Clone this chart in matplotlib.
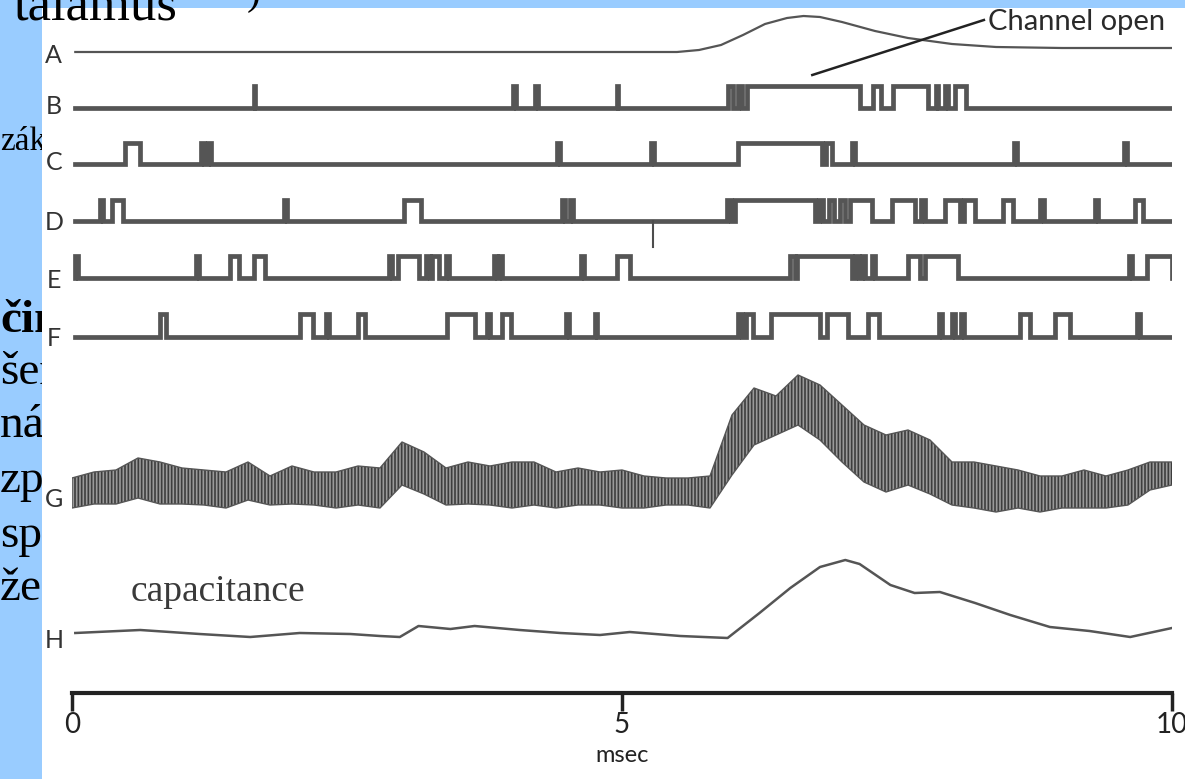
import numpy as np
import matplotlib
matplotlib.use('Agg')
from matplotlib import pyplot as plt
from matplotlib.patches import Rectangle

# Single-channel traces B-F: open intervals (msec)
B_open = [(1.65, 1.66), (4.01, 4.04), (4.21, 4.24), (4.95, 4.96), (5.96, 6.01), (6.05, 6.09),
          (6.14, 7.16), (7.28, 7.35), (7.46, 7.78), (7.85, 7.87), (7.94, 7.96), (8.03, 8.13)]
C_open = [(0.48, 0.62), (1.17, 1.20), (1.24, 1.26), (4.41, 4.44), (5.26, 5.29), (6.05, 6.82),
          (6.85, 6.91), (7.09, 7.12), (8.56, 8.59), (9.56, 9.59)]
D_open = [(0.25, 0.28), (0.36, 0.46), (1.93, 1.95), (3.02, 3.17), (4.45, 4.48), (4.53, 4.55),
          (5.95, 5.99), (6.03, 6.75), (6.79, 6.83), (6.88, 6.93), (6.98, 7.03), (7.07, 7.27),
          (7.45, 7.66), (7.72, 7.75), (7.94, 8.07), (8.11, 8.21), (8.46, 8.55), (8.80, 8.84),
          (9.30, 9.33), (9.66, 9.74)]
D_dips = [5.28]
E_open = [(0.03, 0.05), (1.13, 1.15), (1.44, 1.52), (1.65, 1.75), (2.88, 2.91), (2.96, 3.15),
          (3.22, 3.25), (3.27, 3.34), (3.40, 3.43), (3.84, 3.86), (3.88, 3.91), (4.63, 4.65),
          (4.95, 5.07), (6.53, 6.57), (6.59, 7.09), (7.12, 7.15), (7.18, 7.21), (7.27, 7.30),
          (7.60, 7.71), (7.75, 8.05), (9.61, 9.64), (9.77, 10.0)]
F_open = [(0.80, 0.85), (2.07, 2.19), (2.31, 2.34), (2.60, 2.66), (3.41, 3.66), (3.77, 3.80),
          (3.91, 3.99), (4.49, 4.52), (4.75, 4.77), (6.05, 6.09), (6.13, 6.19), (6.35, 6.80),
          (6.86, 7.05), (7.24, 7.34), (7.88, 7.91), (8.00, 8.03), (8.08, 8.11), (8.62, 8.71),
          (8.94, 9.07), (9.68, 9.71)]

# A: stimulus (smooth)
A_t = [0.03, 5.5, 5.7, 5.9, 6.1, 6.3, 6.5, 6.65, 6.8, 7.0, 7.3, 7.6, 8.0, 8.4, 9.0, 10.0]
A_y = [52, 52, 50, 45, 35, 24, 18, 16, 17, 22, 31, 38, 44, 47, 48, 48]

# G: summed current, upper / lower envelope
G_t = [round(0.2 * i, 1) for i in range(51)]
G_hi = [478, 472, 470, 458, 462, 468, 470, 472, 462, 476, 466, 472, 472, 466, 468, 442, 452,
        468, 462, 466, 462, 462, 472, 468, 472, 470, 476, 478, 478, 476, 415, 388, 396, 375,
        385, 405, 425, 435, 430, 440, 462, 462, 466, 470, 476, 476, 470, 476, 470, 462, 462]
G_lo = [508, 504, 504, 498, 504, 504, 505, 508, 500, 505, 504, 505, 508, 505, 508, 485, 494,
        505, 504, 505, 508, 505, 508, 505, 505, 508, 508, 505, 505, 508, 475, 445, 435, 425,
        440, 462, 482, 492, 485, 494, 505, 508, 512, 508, 512, 508, 508, 508, 505, 490, 485]

# H: capacitance
H_t = [0.03, 0.62, 1.16, 1.62, 2.07, 2.53, 2.8, 2.98, 3.15, 3.44, 3.66, 4.07, 4.44, 4.8, 5.07,
       5.53, 5.96, 6.25, 6.53, 6.8, 7.03, 7.16, 7.44, 7.66, 7.89, 8.21, 8.53, 8.89, 9.25, 9.62, 10.0]
H_y = [633, 630, 634, 637, 633, 634, 636, 637, 626, 629, 626, 630, 633, 635, 632,
       636, 638, 613, 588, 567, 560, 564, 585, 593, 592, 603, 615, 627, 631, 637, 628]

trace_labels = ['A', 'B', 'C', 'D', 'E', 'F', 'G', 'H']
label_y = [55, 106, 162, 222, 280, 338, 499, 641]
side_words = ['zák', 'čin', 'šer', 'ná', 'zp', 'spo', 'žer']
side_y = [150, 332, 384, 437, 492, 547, 600]

W, H = 1185, 779
blue = '#99ccff'
ink = '#4d4d4d'

fig = plt.figure(figsize=(W / 100, H / 100), dpi=100, facecolor=blue)

# white picture panel on the slide
fig.patches.append(Rectangle((42 / W, 0), 1 - 42 / W, (H - 8) / H, transform=fig.transFigure,
                             facecolor='white', edgecolor='none', zorder=1))

# slide text behind the picture
for word, y in zip(side_words, side_y):
    bold = 'bold' if word == 'čin' else 'normal'
    size = 24 if word == 'zák' else 34
    fig.text(0 / W, 1 - y / H, word, family='Liberation Serif', fontsize=size, weight=bold,
             va='baseline', ha='left', zorder=0.5)
fig.text(14 / W, 1 - 19 / H, 'talamus', family='Liberation Serif', fontsize=38,
         va='baseline', ha='left', zorder=3)
fig.text(247 / W, 1 - 4 / H, ')', family='Liberation Serif', fontsize=30,
         va='baseline', ha='left', zorder=3)

ax = fig.add_axes([72 / W, 0, 1100 / W, 1])
ax.set_zorder(2)
ax.patch.set_alpha(0)
ax.set_xlim(0, 10)
ax.set_ylim(H, 0)


def step_trace(intervals, base, amp):
    xs, ys = [0.03], [base]
    for t0, t1 in intervals:
        xs += [t0, t0, t1, t1]
        ys += [base, base - amp, base - amp, base]
    xs.append(10.0)
    ys.append(base)
    return xs, ys


levels = [(B_open, 108, 22), (C_open, 164, 21), (D_open, 221, 21), (E_open, 278, 22), (F_open, 337, 23)]
for ivs, base, amp in levels:
    xs, ys = step_trace(ivs, base, amp)
    ax.plot(xs, ys, color='#555555', lw=3.4, solid_joinstyle='miter')
for t in D_dips:
    ax.plot([t, t], [221, 247], color=ink, lw=1.5)

ax.plot(A_t, A_y, color='#555555', lw=1.6)

matplotlib.rcParams['hatch.linewidth'] = 1.2
ax.fill_between(G_t, G_hi, G_lo, facecolor='#9a9a9a', edgecolor='#3d3d3d', hatch='|||||', lw=0)
ax.plot(G_t, G_hi, color='#555555', lw=1.0)
ax.plot(G_t, G_lo, color='#555555', lw=1.0)

ax.plot(H_t, H_y, color='#555555', lw=1.8)

for lab, y in zip(trace_labels, label_y):
    ax.text(-0.165, y, lab, family='Lato', fontsize=18, color='#333333', ha='center', va='center')

ax.text(0.53, 601, 'capacitance', family='Liberation Serif', fontsize=27, color='#3a3a3a',
        va='baseline', ha='left')

# "Channel open" label with leader line
ax.text(8.33, 22, 'Channel open', family='Lato', fontsize=21, color='#2a2a2a', ha='left', va='center')
ax.plot([8.29, 6.73], [20, 75], color='#222222', lw=1.8)

# time axis
for side in ['top', 'left', 'right']:
    ax.spines[side].set_visible(False)
ax.spines['bottom'].set_position(('data', 693))
ax.spines['bottom'].set_bounds(0, 10)
ax.spines['bottom'].set_linewidth(3)
ax.spines['bottom'].set_color('#222222')
ax.set_xticks([0, 5, 10])
ax.set_xticklabels(['0', '5', '10'])
ax.tick_params(axis='x', direction='out', length=13, width=2.5, color='#222222', pad=1,
               labelsize=20, labelcolor='#222222')
for lbl in ax.get_xticklabels():
    lbl.set_family('Lato')
ax.set_yticks([])
ax.text(5, 755, 'msec', family='Lato', fontsize=17, color='#222222', ha='center', va='center')

fig.savefig('out.png', dpi=100, facecolor=blue)
